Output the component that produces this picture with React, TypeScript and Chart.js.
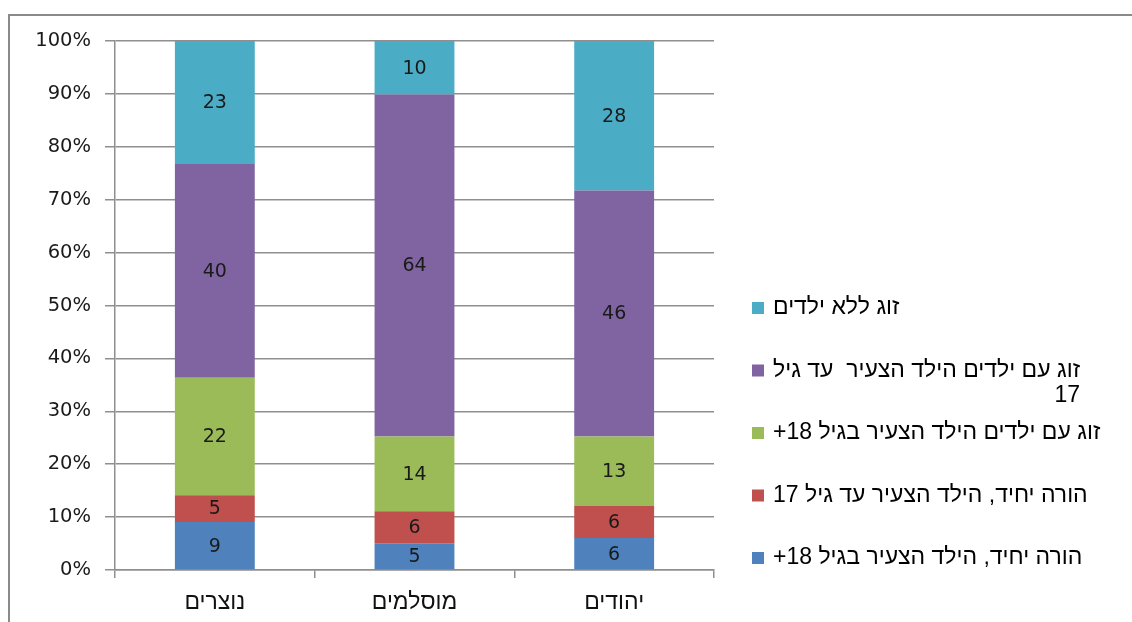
import React, { useEffect, useRef } from "react";
import { Chart, registerables } from "chart.js";

Chart.register(...registerables);

// ---- data ----
const categories = ["נוצרים", "מוסלמים", "יהודים"];
const seriesNames = [
  "הורה יחיד, הילד הצעיר בגיל 18+",
  "הורה יחיד, הילד הצעיר עד גיל 17",
  "זוג עם ילדים הילד הצעיר בגיל 18+",
  "זוג עם ילדים הילד הצעיר  עד גיל\n17",
  "זוג ללא ילדים",
];
const singleParentAdultChild = [9, 5, 6];
const singleParentMinorChild = [5, 6, 6];
const coupleAdultChild = [22, 14, 13];
const coupleMinorChild = [40, 64, 46];
const coupleNoChildren = [23, 10, 28];
const seriesColors = ["#4F81BD", "#C0504D", "#9BBB59", "#8064A2", "#4BACC6"];

const allSeries = [
  singleParentAdultChild,
  singleParentMinorChild,
  coupleAdultChild,
  coupleMinorChild,
  coupleNoChildren,
];

const W = 1132;
const H = 622;
const GRID = "#8f8f8f";
const LATIN = '"DejaVu Sans", Verdana, sans-serif';
const HEB = '"Liberation Sans", Arial, "DejaVu Sans", sans-serif';

export default function App() {
  const ref = useRef<HTMLCanvasElement | null>(null);

  useEffect(() => {
    if (!ref.current) return;
    const totals = categories.map((_, i) =>
      allSeries.reduce((s, arr) => s + arr[i], 0)
    );
    const datasets = allSeries.map((arr, si) => ({
      label: seriesNames[si],
      data: arr.map((v, i) => (v / totals[i]) * 100),
      raw: arr,
      backgroundColor: seriesColors[si],
      borderWidth: 0,
      barPercentage: 0.4,
      categoryPercentage: 1,
    }));

    const framePlugin = {
      id: "frame",
      beforeDraw(chart: any) {
        const ctx = chart.ctx;
        ctx.save();
        ctx.fillStyle = "#ffffff";
        ctx.fillRect(0, 0, W, H);
        ctx.strokeStyle = "#8a8a8a";
        ctx.lineWidth = 2;
        ctx.beginPath();
        ctx.moveTo(W + 2, 15);
        ctx.lineTo(9, 15);
        ctx.lineTo(9, H + 2);
        ctx.stroke();
        ctx.restore();
      },
    };

    const labelPlugin = {
      id: "segLabels",
      afterDatasetsDraw(chart: any) {
        const ctx = chart.ctx;
        ctx.save();
        ctx.font = `19px ${LATIN}`;
        ctx.fillStyle = "#1a1a1a";
        ctx.textAlign = "center";
        ctx.textBaseline = "middle";
        chart.data.datasets.forEach((ds: any, di: number) => {
          const meta = chart.getDatasetMeta(di);
          meta.data.forEach((bar: any, i: number) => {
            const y = (bar.y + bar.base) / 2;
            ctx.fillText(String(ds.raw[i]), bar.x, y + 1);
          });
        });
        ctx.restore();
      },
    };

    const legendPlugin = {
      id: "rtlLegend",
      afterDraw(chart: any) {
        const ctx = chart.ctx;
        ctx.save();
        const n = chart.data.datasets.length;
        const x0 = 752;
        const textX = 773;
        const startY = 308;
        const step = 62.5;
        for (let k = 0; k < n; k++) {
          const di = n - 1 - k;
          const ds = chart.data.datasets[di];
          const y = startY + k * step;
          ctx.fillStyle = ds.backgroundColor;
          ctx.fillRect(x0, y - 6, 12, 12);
          const lines = String(ds.label).split("\n");
          ctx.font = `23px ${HEB}`;
          ctx.fillStyle = "#000000";
          ctx.textBaseline = "middle";
          (ctx as any).direction = "rtl";
          ctx.textAlign = "left";
          ctx.fillText(lines[0], textX, y);
          const w0 = ctx.measureText(lines[0]).width;
          for (let l = 1; l < lines.length; l++) {
            ctx.textAlign = "right";
            ctx.fillText(lines[l], textX + w0, y + l * 25);
          }
        }
        ctx.restore();
      },
    };

    const chart = new Chart(ref.current, {
      type: "bar",
      data: { labels: categories, datasets: datasets as any },
      options: {
        responsive: false,
        animation: false,
        layout: { padding: { left: 0, top: 41, right: W - 714, bottom: 0 } },
        plugins: {
          legend: { display: false },
          tooltip: { enabled: false },
          title: { display: false },
        },
        scales: {
          x: {
            stacked: true,
            grid: {
              display: true,
              drawOnChartArea: false,
              drawTicks: true,
              tickLength: 8,
              color: GRID,
              lineWidth: 1.5,
            },
            border: { display: true, color: GRID, width: 1.5 },
            ticks: {
              font: { family: HEB, size: 23 },
              color: "#111111",
              padding: 11,
            },
            afterFit(scale: any) {
              scale.height = 52;
            },
          },
          y: {
            stacked: true,
            min: 0,
            max: 100,
            grid: {
              color: GRID,
              lineWidth: 1.5,
              tickLength: 10,
              drawTicks: true,
            },
            border: { display: true, color: GRID, width: 1.5 },
            ticks: {
              stepSize: 10,
              font: { family: LATIN, size: 19.5 },
              color: "#1a1a1a",
              padding: 14,
              callback: (v: any) => `${v}%`,
            },
            afterFit(scale: any) {
              scale.width = 115;
            },
          },
        },
      },
      plugins: [framePlugin, labelPlugin, legendPlugin],
    });
    return () => chart.destroy();
  }, []);

  return (
    <div style={{ position: "absolute", left: 0, top: 0, width: W, height: H, background: "#fff" }}>
      <canvas ref={ref} width={W} height={H} style={{ display: "block", width: W, height: H }} />
    </div>
  );
}
